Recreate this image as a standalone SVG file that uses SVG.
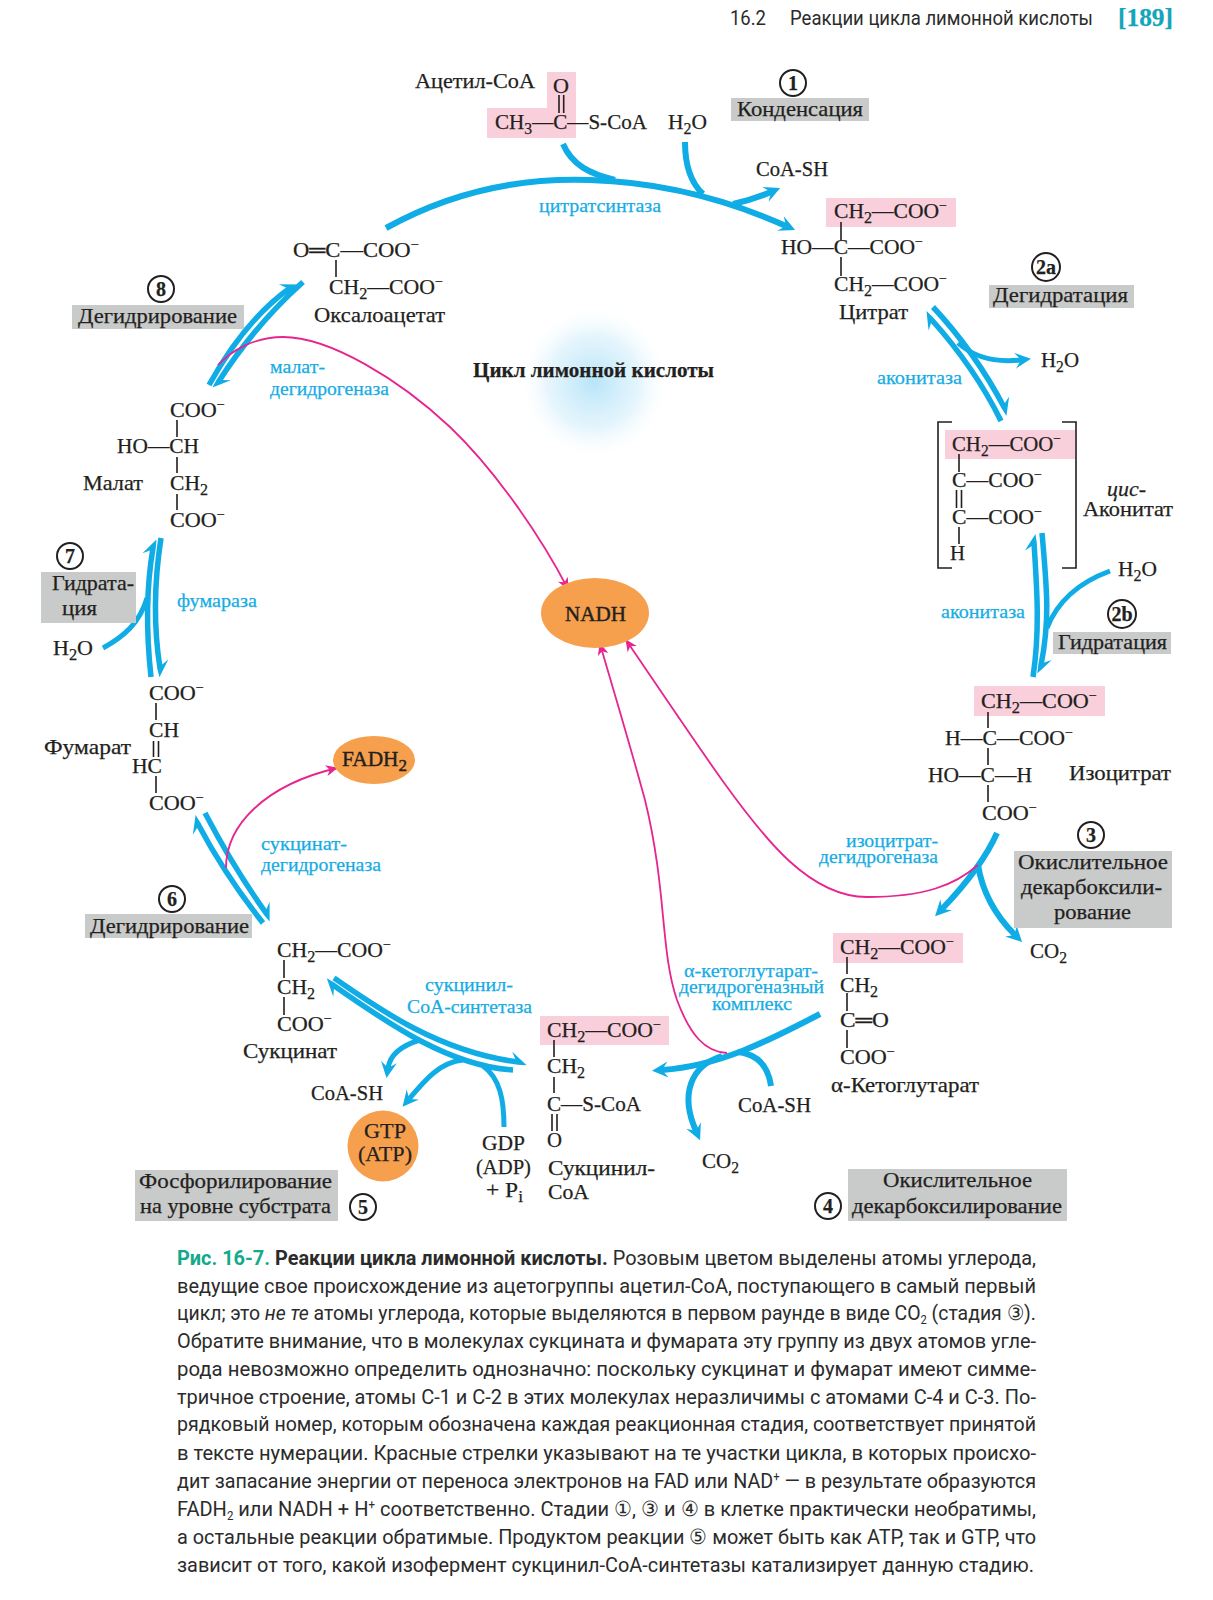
<svg xmlns="http://www.w3.org/2000/svg" width="1213" height="1600" viewBox="0 0 1213 1600">
<style>
text{font-family:"Liberation Serif","Noto Sans CJK SC",serif;font-size:21.5px;fill:#231f20;stroke:#231f20;stroke-width:.25}
.e{fill:#16ace4;stroke:#16ace4;font-size:19px}
.s{font-size:16px}
.u{font-size:14px}
.n{font-weight:bold;font-size:20px;text-anchor:middle}
.bd{stroke:#231f20;stroke-width:1.6;fill:none}
.c{fill:#fff;stroke:#231f20;stroke-width:2}
.pk{fill:#f9cfdc}
.gr{fill:#c9caca}
.or{fill:#f6a04d}
.a{fill:none;stroke:#10ace6;stroke-width:6}
.d{fill:none;stroke:#10ace6;stroke-width:5.5}
.r{fill:none;stroke:#e6258f;stroke-width:1.8}
.cap{font-family:"Roboto","Noto Sans",sans-serif;font-size:21px;fill:#2b2b2b;stroke:none}
.cb{font-weight:bold}
.cg{font-weight:bold;fill:#12a98c}
.h{font-family:"Roboto","Noto Sans",sans-serif;font-size:21px;fill:#2b2b2b;stroke:none}
</style>
<defs>
<radialGradient id="glow"><stop offset="0" stop-color="#9fdcf6" stop-opacity=".75"/><stop offset=".6" stop-color="#c5e9f9" stop-opacity=".45"/><stop offset="1" stop-color="#fff" stop-opacity="0"/></radialGradient>
<marker id="ah" markerUnits="userSpaceOnUse" markerWidth="28" markerHeight="24" refX="10" refY="12" viewBox="0 0 28 24" orient="auto"><path d="M20 12 L4 4 L10 12 L4 20Z" fill="#10ace6"/></marker>
<marker id="hl" markerUnits="userSpaceOnUse" markerWidth="28" markerHeight="24" refX="10" refY="14" viewBox="0 0 28 24" orient="auto"><path d="M19 16 L3 4.5 L7 11.3 L10 16.8Z" fill="#10ace6"/></marker>
<marker id="rh" markerUnits="userSpaceOnUse" markerWidth="16" markerHeight="14" refX="12" refY="7" viewBox="0 0 16 14" orient="auto"><path d="M13 7 L1 1.5 L4.5 7 L1 12.5Z" fill="#e6258f"/></marker>
</defs>
<rect width="1213" height="1600" fill="#fff"/>
<ellipse cx="594" cy="382" rx="76" ry="78" fill="url(#glow)"/>

<g id="header">
<text class="h" x="730" y="25" textLength="36" lengthAdjust="spacingAndGlyphs">16.2</text>
<text class="h" x="790" y="25" textLength="303" lengthAdjust="spacingAndGlyphs">Реакции цикла лимонной кислоты</text>
<text x="1118" y="26" textLength="55" lengthAdjust="spacingAndGlyphs" font-weight="bold" style="font-size:25px;fill:#13a5b8;stroke:#13a5b8">[189]</text>
</g>

<g id="connectors">
<path class="a" d="M386 228 Q480 176 590 180 Q690 183 786 226" marker-end="url(#ah)"/>
<path class="a" d="M563 144 C572 165 590 174 615 180"/>
<path class="a" d="M685 142 C685 165 690 182 703 194"/>
<path class="a" d="M733 204 Q752 200 771 192" marker-end="url(#ah)"/>

<path class="d" d="M933 307 Q975 352 1004 407" marker-end="url(#hl)"/>
<path class="d" d="M1001 421 Q975 368 931 319" marker-end="url(#hl)"/>
<path class="a" style="stroke-width:5" d="M958 343 C975 358 995 363 1021 360" marker-end="url(#ah)"/>

<path class="d" d="M1033 677 C1040 630 1037 590 1034 543" marker-end="url(#hl)"/>
<path class="d" d="M1042 533 C1047 590 1050 620 1041 665" marker-end="url(#hl)"/>
<path class="a" style="stroke-width:5" d="M1110 571 C1080 582 1058 600 1047 628"/>

<path class="a" d="M997 833 C985 860 965 885 942 909" marker-end="url(#ah)"/>
<path class="a" d="M978 865 C982 890 995 915 1015 935" marker-end="url(#ah)"/>

<path class="a" d="M820 1014 C770 1040 720 1066 662 1070" marker-end="url(#ah)"/>
<path class="a" d="M771 1086 C768 1065 756 1054 738 1052"/>
<path class="a" d="M722 1056 C690 1066 680 1095 696 1131" marker-end="url(#ah)"/>

<path class="d" d="M334 978 C380 1010 440 1052 518 1062" marker-end="url(#hl)"/>
<path class="d" d="M513 1070 C450 1066 390 1025 333 985" marker-end="url(#hl)"/>
<path class="a" style="stroke-width:5" d="M420 1040 C400 1046 390 1055 388 1068" marker-end="url(#ah)"/>
<path class="a" style="stroke-width:5" d="M463 1060 C440 1062 425 1080 409 1099" marker-end="url(#ah)"/>
<path class="a" style="stroke-width:5" d="M504 1127 C504 1100 500 1078 483 1066"/>

<path class="d" d="M263 923 Q225 875 198 824" marker-end="url(#hl)"/>
<path class="d" d="M205 813 Q235 870 266 913" marker-end="url(#hl)"/>

<path class="d" d="M151 677 C147 640 145 595 153 548" marker-end="url(#hl)"/>
<path class="d" d="M161 538 C153 590 154 630 160 668" marker-end="url(#hl)"/>
<path class="a" style="stroke-width:5" d="M103 648 C125 636 140 622 147 598"/>

<path class="d" d="M209 385 Q245 320 290 288" marker-end="url(#hl)"/>
<path class="d" d="M303 282 Q255 325 219 381" marker-end="url(#hl)"/>

<path class="r" d="M218 365 C232 350 255 337 283 337 C330 337 400 380 450 427 C495 470 540 535 568 589" marker-end="url(#rh)"/>
<path class="r" d="M978 865 C955 885 925 897 867 897 C810 897 765 840 722 780 C690 735 650 675 626 640" marker-end="url(#rh)"/>
<path class="r" d="M727 1053 C705 1052 690 1035 677 1000 C660 950 667 890 645 800 C630 745 615 695 600 644" marker-end="url(#rh)"/>
<path class="r" d="M226 868 C226 825 265 785 337 768" marker-end="url(#rh)"/>
</g>

<g id="acetyl-coa">
<path class="pk" d="M547 72H576V138H487V108H547Z"/>
<text x="415" y="88" textLength="120" lengthAdjust="spacingAndGlyphs">Ацетил-CoA</text>
<text x="553" y="93" textLength="16" lengthAdjust="spacingAndGlyphs">O</text>
<path class="bd" d="M559 95V113M563.7 95V113"/>
<text x="495" y="129" textLength="152" lengthAdjust="spacingAndGlyphs">CH<tspan class="s" dy="5">3</tspan><tspan dy="-5">—C—S-CoA</tspan></text>
<text x="668" y="129" textLength="39" lengthAdjust="spacingAndGlyphs">H<tspan class="s" dy="5">2</tspan><tspan dy="-5">O</tspan></text>
<text x="756" y="176" textLength="72" lengthAdjust="spacingAndGlyphs">CoA-SH</text>
<text class="e" x="539" y="212" textLength="122" lengthAdjust="spacingAndGlyphs">цитратсинтаза</text>
</g>

<g id="step1">
<circle class="c" cx="793" cy="83" r="13"/><text class="n" x="793" y="90">1</text>
<rect class="gr" x="731" y="98" width="138" height="23"/>
<text x="737" y="116" textLength="126" lengthAdjust="spacingAndGlyphs">Конденсация</text>
</g>

<g id="citrate">
<rect class="pk" x="826" y="198" width="130" height="29"/>
<text x="834" y="218" textLength="113" lengthAdjust="spacingAndGlyphs">CH<tspan class="s" dy="5">2</tspan><tspan dy="-5">—COO</tspan><tspan class="u" dy="-8">−</tspan></text>
<text x="781" y="254" textLength="142" lengthAdjust="spacingAndGlyphs">HO—C—COO<tspan class="u" dy="-8">−</tspan></text>
<text x="834" y="291" textLength="113" lengthAdjust="spacingAndGlyphs">CH<tspan class="s" dy="5">2</tspan><tspan dy="-5">—COO</tspan><tspan class="u" dy="-8">−</tspan></text>
<path class="bd" d="M841 222V240M841 257V276"/>
<text x="839" y="319" textLength="69" lengthAdjust="spacingAndGlyphs">Цитрат</text>
</g>

<g id="step2a">
<circle class="c" cx="1046" cy="267" r="14"/><text class="n" x="1046" y="274">2a</text>
<rect class="gr" x="989" y="285" width="145" height="23"/>
<text x="993" y="302" textLength="135" lengthAdjust="spacingAndGlyphs">Дегидратация</text>
<text x="1041" y="367" textLength="38" lengthAdjust="spacingAndGlyphs">H<tspan class="s" dy="5">2</tspan><tspan dy="-5">O</tspan></text>
<text class="e" x="877" y="384" textLength="85" lengthAdjust="spacingAndGlyphs">аконитаза</text>
</g>

<g id="cis-aconitate">
<rect class="pk" x="945" y="430" width="130" height="29"/>
<path class="bd" d="M952 422H938V568H952M1062 422H1076V568H1062"/>
<text x="952" y="451" textLength="109" lengthAdjust="spacingAndGlyphs">CH<tspan class="s" dy="5">2</tspan><tspan dy="-5">—COO</tspan><tspan class="u" dy="-8">−</tspan></text>
<text x="952" y="487" textLength="90" lengthAdjust="spacingAndGlyphs">C—COO<tspan class="u" dy="-8">−</tspan></text>
<text x="952" y="524" textLength="90" lengthAdjust="spacingAndGlyphs">C—COO<tspan class="u" dy="-8">−</tspan></text>
<text x="950" y="560" textLength="15" lengthAdjust="spacingAndGlyphs">H</text>
<path class="bd" d="M959 454V472M956.5 490V508M961.5 490V508M959 527V544"/>
<text x="1107" y="496" textLength="39" lengthAdjust="spacingAndGlyphs" font-style="italic">цис-</text>
<text x="1083" y="516" textLength="90" lengthAdjust="spacingAndGlyphs">Аконитат</text>
</g>

<g id="step2b">
<text x="1118" y="576" textLength="39" lengthAdjust="spacingAndGlyphs">H<tspan class="s" dy="5">2</tspan><tspan dy="-5">O</tspan></text>
<text class="e" x="941" y="618" textLength="84" lengthAdjust="spacingAndGlyphs">аконитаза</text>
<circle class="c" cx="1122" cy="614" r="14"/><text class="n" x="1122" y="621">2b</text>
<rect class="gr" x="1053" y="632" width="118" height="22"/>
<text x="1058" y="649" textLength="109" lengthAdjust="spacingAndGlyphs">Гидратация</text>
</g>

<g id="isocitrate">
<rect class="pk" x="974" y="686" width="131" height="30"/>
<text x="981" y="708" textLength="116" lengthAdjust="spacingAndGlyphs">CH<tspan class="s" dy="5">2</tspan><tspan dy="-5">—COO</tspan><tspan class="u" dy="-8">−</tspan></text>
<text x="945" y="745" textLength="128" lengthAdjust="spacingAndGlyphs">H—C—COO<tspan class="u" dy="-8">−</tspan></text>
<text x="928" y="782" textLength="104" lengthAdjust="spacingAndGlyphs">HO—C—H</text>
<text x="982" y="820" textLength="55" lengthAdjust="spacingAndGlyphs">COO<tspan class="u" dy="-8">−</tspan></text>
<path class="bd" d="M988 712V728M988 748V765M988 785V802"/>
<text x="1069" y="780" textLength="102" lengthAdjust="spacingAndGlyphs">Изоцитрат</text>
</g>

<g id="step3">
<text class="e" x="846" y="847" textLength="92" lengthAdjust="spacingAndGlyphs">изоцитрат-</text>
<text class="e" x="819" y="863" textLength="119" lengthAdjust="spacingAndGlyphs">дегидрогеназа</text>
<circle class="c" cx="1091" cy="835" r="13"/><text class="n" x="1091" y="842">3</text>
<rect class="gr" x="1014" y="851" width="158" height="77"/>
<text x="1018" y="869" textLength="150" lengthAdjust="spacingAndGlyphs">Окислительное</text>
<text x="1021" y="894" textLength="141" lengthAdjust="spacingAndGlyphs">декарбоксили-</text>
<text x="1054" y="919" textLength="77" lengthAdjust="spacingAndGlyphs">рование</text>
<text x="1030" y="958" textLength="37" lengthAdjust="spacingAndGlyphs">CO<tspan class="s" dy="5">2</tspan></text>
</g>

<g id="alpha-ketoglutarate">
<rect class="pk" x="833" y="933" width="130" height="30"/>
<text x="840" y="954" textLength="114" lengthAdjust="spacingAndGlyphs">CH<tspan class="s" dy="5">2</tspan><tspan dy="-5">—COO</tspan><tspan class="u" dy="-8">−</tspan></text>
<text x="840" y="992" textLength="38" lengthAdjust="spacingAndGlyphs">CH<tspan class="s" dy="5">2</tspan></text>
<text x="840" y="1027" textLength="49" lengthAdjust="spacingAndGlyphs">C═O</text>
<text x="840" y="1064" textLength="55" lengthAdjust="spacingAndGlyphs">COO<tspan class="u" dy="-8">−</tspan></text>
<path class="bd" d="M847 957V974M847 993V1011M847 1030V1048"/>
<text x="831" y="1092" textLength="148" lengthAdjust="spacingAndGlyphs">α-Кетоглутарат</text>
</g>

<g id="step4">
<text class="e" x="684" y="977" textLength="134" lengthAdjust="spacingAndGlyphs">α-кетоглутарат-</text>
<text class="e" x="679" y="993" textLength="145" lengthAdjust="spacingAndGlyphs">дегидрогеназный</text>
<text class="e" x="712" y="1010" textLength="80" lengthAdjust="spacingAndGlyphs">комплекс</text>
<text x="738" y="1112" textLength="73" lengthAdjust="spacingAndGlyphs">CoA-SH</text>
<text x="702" y="1168" textLength="37" lengthAdjust="spacingAndGlyphs">CO<tspan class="s" dy="5">2</tspan></text>
<rect class="gr" x="848" y="1169" width="219" height="52"/>
<text x="883" y="1187" textLength="149" lengthAdjust="spacingAndGlyphs">Окислительное</text>
<text x="852" y="1213" textLength="210" lengthAdjust="spacingAndGlyphs">декарбоксилирование</text>
<circle class="c" cx="828" cy="1206" r="13"/><text class="n" x="828" y="1213">4</text>
</g>

<g id="succinyl-coa">
<rect class="pk" x="540" y="1016" width="129" height="29"/>
<text x="547" y="1037" textLength="114" lengthAdjust="spacingAndGlyphs">CH<tspan class="s" dy="5">2</tspan><tspan dy="-5">—COO</tspan><tspan class="u" dy="-8">−</tspan></text>
<text x="547" y="1073" textLength="38" lengthAdjust="spacingAndGlyphs">CH<tspan class="s" dy="5">2</tspan></text>
<text x="547" y="1111" textLength="94" lengthAdjust="spacingAndGlyphs">C—S-CoA</text>
<text x="547" y="1147" textLength="15" lengthAdjust="spacingAndGlyphs">O</text>
<path class="bd" d="M554 1040V1057M554 1077V1093M552 1114V1131M557 1114V1131"/>
<text x="548" y="1175" textLength="107" lengthAdjust="spacingAndGlyphs">Сукцинил-</text>
<text x="548" y="1199" textLength="41" lengthAdjust="spacingAndGlyphs">CoA</text>
</g>

<g id="step5">
<text class="e" x="425" y="991" textLength="88" lengthAdjust="spacingAndGlyphs">сукцинил-</text>
<text class="e" x="407" y="1013" textLength="125" lengthAdjust="spacingAndGlyphs">CoA-синтетаза</text>
<text x="311" y="1100" textLength="72" lengthAdjust="spacingAndGlyphs">CoA-SH</text>
<text x="482" y="1150" textLength="43" lengthAdjust="spacingAndGlyphs">GDP</text>
<text x="476" y="1174" textLength="55" lengthAdjust="spacingAndGlyphs">(ADP)</text>
<text x="486" y="1197" textLength="37" lengthAdjust="spacingAndGlyphs">+ P<tspan class="s" dy="5">i</tspan></text>
<rect class="gr" x="135" y="1170" width="203" height="51"/>
<text x="139" y="1188" textLength="193" lengthAdjust="spacingAndGlyphs">Фосфорилирование</text>
<text x="140" y="1213" textLength="191" lengthAdjust="spacingAndGlyphs">на уровне субстрата</text>
<circle class="c" cx="363" cy="1207" r="13"/><text class="n" x="363" y="1214">5</text>
</g>

<g id="gtp">
<circle class="or" cx="383" cy="1146" r="35.5"/>
<text x="364" y="1138" textLength="42" lengthAdjust="spacingAndGlyphs">GTP</text>
<text x="358" y="1161" textLength="54" lengthAdjust="spacingAndGlyphs">(ATP)</text>
</g>

<g id="succinate">
<text x="277" y="957" textLength="114" lengthAdjust="spacingAndGlyphs">CH<tspan class="s" dy="5">2</tspan><tspan dy="-5">—COO</tspan><tspan class="u" dy="-8">−</tspan></text>
<text x="277" y="994" textLength="38" lengthAdjust="spacingAndGlyphs">CH<tspan class="s" dy="5">2</tspan></text>
<text x="277" y="1031" textLength="55" lengthAdjust="spacingAndGlyphs">COO<tspan class="u" dy="-8">−</tspan></text>
<path class="bd" d="M284 960V978M284 997V1015"/>
<text x="243" y="1058" textLength="94" lengthAdjust="spacingAndGlyphs">Сукцинат</text>
</g>

<g id="step6">
<circle class="c" cx="172" cy="899" r="13"/><text class="n" x="172" y="906">6</text>
<rect class="gr" x="85" y="914" width="167" height="24"/>
<text x="90" y="933" textLength="159" lengthAdjust="spacingAndGlyphs">Дегидрирование</text>
<text class="e" x="261" y="850" textLength="86" lengthAdjust="spacingAndGlyphs">сукцинат-</text>
<text class="e" x="261" y="871" textLength="120" lengthAdjust="spacingAndGlyphs">дегидрогеназа</text>
</g>

<g id="fadh2">
<ellipse class="or" cx="374" cy="760" rx="41" ry="24"/>
<text x="342" y="766" textLength="65" lengthAdjust="spacingAndGlyphs" style="font-size:20px;stroke-width:.4">FADH<tspan class="s" dy="5">2</tspan></text>
</g>

<g id="fumarate">
<text x="149" y="700" textLength="55" lengthAdjust="spacingAndGlyphs">COO<tspan class="u" dy="-8">−</tspan></text>
<text x="149" y="737" textLength="30" lengthAdjust="spacingAndGlyphs">CH</text>
<text x="132" y="773" textLength="30" lengthAdjust="spacingAndGlyphs">HC</text>
<text x="149" y="810" textLength="55" lengthAdjust="spacingAndGlyphs">COO<tspan class="u" dy="-8">−</tspan></text>
<path class="bd" d="M156 703V720M153.5 741V757M158.5 741V757M156 776V793"/>
<text x="44" y="754" textLength="87" lengthAdjust="spacingAndGlyphs">Фумарат</text>
</g>

<g id="step7">
<circle class="c" cx="70" cy="556" r="13"/><text class="n" x="70" y="563">7</text>
<rect class="gr" x="41" y="572" width="95" height="51"/>
<text x="52" y="590" textLength="82" lengthAdjust="spacingAndGlyphs">Гидрата-</text>
<text x="62" y="615" textLength="35" lengthAdjust="spacingAndGlyphs">ция</text>
<text x="53" y="655" textLength="40" lengthAdjust="spacingAndGlyphs">H<tspan class="s" dy="5">2</tspan><tspan dy="-5">O</tspan></text>
<text class="e" x="177" y="607" textLength="80" lengthAdjust="spacingAndGlyphs">фумараза</text>
</g>

<g id="malate">
<text x="170" y="417" textLength="55" lengthAdjust="spacingAndGlyphs">COO<tspan class="u" dy="-8">−</tspan></text>
<text x="117" y="453" textLength="82" lengthAdjust="spacingAndGlyphs">HO—CH</text>
<text x="170" y="490" textLength="38" lengthAdjust="spacingAndGlyphs">CH<tspan class="s" dy="5">2</tspan></text>
<text x="170" y="527" textLength="55" lengthAdjust="spacingAndGlyphs">COO<tspan class="u" dy="-8">−</tspan></text>
<path class="bd" d="M177 420V437M177 457V473M177 494V510"/>
<text x="83" y="490" textLength="60" lengthAdjust="spacingAndGlyphs">Малат</text>
</g>

<g id="step8">
<circle class="c" cx="161" cy="289" r="13"/><text class="n" x="161" y="296">8</text>
<rect class="gr" x="72" y="305" width="172" height="24"/>
<text x="78" y="323" textLength="159" lengthAdjust="spacingAndGlyphs">Дегидрирование</text>
<text class="e" x="270" y="373" textLength="55" lengthAdjust="spacingAndGlyphs">малат-</text>
<text class="e" x="270" y="395" textLength="119" lengthAdjust="spacingAndGlyphs">дегидрогеназа</text>
</g>

<g id="oxaloacetate">
<text x="293" y="257" textLength="126" lengthAdjust="spacingAndGlyphs">O═C—COO<tspan class="u" dy="-8">−</tspan></text>
<text x="329" y="294" textLength="114" lengthAdjust="spacingAndGlyphs">CH<tspan class="s" dy="5">2</tspan><tspan dy="-5">—COO</tspan><tspan class="u" dy="-8">−</tspan></text>
<path class="bd" d="M336 260V277"/>
<text x="314" y="322" textLength="131" lengthAdjust="spacingAndGlyphs">Оксалоацетат</text>
</g>

<g id="title">
<text x="473" y="377" textLength="241" lengthAdjust="spacingAndGlyphs" font-weight="bold" style="font-size:20px">Цикл лимонной кислоты</text>
</g>

<g id="nadh">
<ellipse class="or" cx="595" cy="613" rx="54" ry="35"/>
<text x="565" y="621" textLength="61" lengthAdjust="spacingAndGlyphs" style="font-size:20px;stroke-width:.4">NADH</text>
</g>

<g id="caption">
<text class="cap" x="177" y="1265" textLength="859" lengthAdjust="spacingAndGlyphs"><tspan class="cg">Рис. 16-7. </tspan><tspan class="cb">Реакции цикла лимонной кислоты.</tspan> Розовым цветом выделены атомы углерода,</text>
<text class="cap" x="177" y="1293" textLength="859" lengthAdjust="spacingAndGlyphs">ведущие свое происхождение из ацетогруппы ацетил-СоА, поступающего в самый первый</text>
<text class="cap" x="177" y="1320" textLength="859" lengthAdjust="spacingAndGlyphs">цикл; это <tspan font-style="italic">не те</tspan> атомы углерода, которые выделяются в первом раунде в виде СО<tspan font-size="12" dy="4">2</tspan><tspan dy="-4"> (стадия ③).</tspan></text>
<text class="cap" x="177" y="1348" textLength="859" lengthAdjust="spacingAndGlyphs">Обратите внимание, что в молекулах сукцината и фумарата эту группу из двух атомов угле-</text>
<text class="cap" x="177" y="1376" textLength="859" lengthAdjust="spacingAndGlyphs">рода невозможно определить однозначно: поскольку сукцинат и фумарат имеют симме-</text>
<text class="cap" x="177" y="1404" textLength="859" lengthAdjust="spacingAndGlyphs">тричное строение, атомы С-1 и С-2 в этих молекулах неразличимы с атомами С-4 и С-3. По-</text>
<text class="cap" x="177" y="1431" textLength="859" lengthAdjust="spacingAndGlyphs">рядковый номер, которым обозначена каждая реакционная стадия, соответствует принятой</text>
<text class="cap" x="177" y="1460" textLength="859" lengthAdjust="spacingAndGlyphs">в тексте нумерации. Красные стрелки указывают на те участки цикла, в которых происхо-</text>
<text class="cap" x="177" y="1488" textLength="859" lengthAdjust="spacingAndGlyphs">дит запасание энергии от переноса электронов на FAD или NAD<tspan font-size="12" dy="-7">+</tspan><tspan dy="7"> — в результате образуются</tspan></text>
<text class="cap" x="177" y="1516" textLength="859" lengthAdjust="spacingAndGlyphs">FADH<tspan font-size="12" dy="4">2</tspan><tspan dy="-4"> или NADH + H</tspan><tspan font-size="12" dy="-7">+</tspan><tspan dy="7"> соответственно. Стадии ①, ③ и ④ в клетке практически необратимы,</tspan></text>
<text class="cap" x="177" y="1544" textLength="859" lengthAdjust="spacingAndGlyphs">а остальные реакции обратимые. Продуктом реакции ⑤ может быть как ATP, так и GTP, что</text>
<text class="cap" x="177" y="1572" textLength="857" lengthAdjust="spacingAndGlyphs">зависит от того, какой изофермент сукцинил-СоА-синтетазы катализирует данную стадию.</text>
</g>
</svg>
